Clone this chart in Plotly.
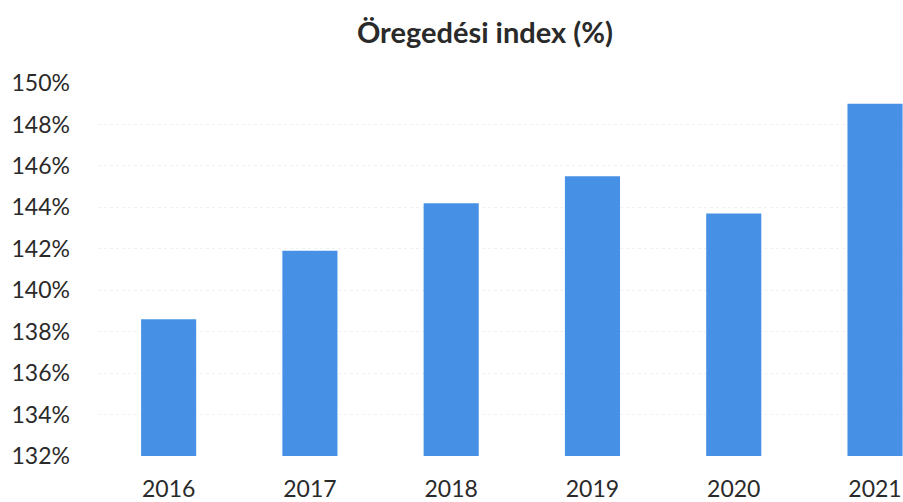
import plotly.graph_objects as go

# Öregedési index by year
years = ["2016", "2017", "2018", "2019", "2020", "2021"]
index_values = [138.6, 141.9, 144.2, 145.5, 143.7, 149.0]
y_ticks = [132, 134, 136, 138, 140, 142, 144, 146, 148, 150]
y_tick_labels = [f"{v}%" for v in y_ticks]

BAR_COLOR = "#4691e6"
TEXT_COLOR = "#2a2a2a"
FONT = "Lato"

fig = go.Figure(
    go.Bar(
        x=years,
        y=index_values,
        marker=dict(color=BAR_COLOR, line=dict(width=0)),
        hoverinfo="x+y",
    )
)

fig.update_layout(
    width=903,
    height=502,
    margin=dict(l=98, r=0, t=83, b=46),
    paper_bgcolor="white",
    plot_bgcolor="white",
    bargap=0.61,
    showlegend=False,
    title=dict(
        text="<b>Öregedési index (%)</b>",
        x=0.537,
        xanchor="center",
        y=0.935,
        yanchor="middle",
        font=dict(family=FONT, size=29, color=TEXT_COLOR),
    ),
    font=dict(family=FONT, color=TEXT_COLOR),
)

fig.update_xaxes(
    type="category",
    range=[-0.5, 5.198],
    showgrid=False,
    showline=False,
    ticks="",
    tickfont=dict(family=FONT, size=23, color=TEXT_COLOR),
    ticklabelstandoff=17,
)

fig.update_yaxes(
    range=[132, 150],
    tickvals=y_ticks,
    ticktext=y_tick_labels,
    showgrid=True,
    gridcolor="#f1f1f1",
    griddash="dot",
    gridwidth=1,
    zeroline=False,
    showline=False,
    ticks="",
    tickfont=dict(family=FONT, size=23, color=TEXT_COLOR),
    ticklabelstandoff=27,
)

fig.write_html("out.html")
